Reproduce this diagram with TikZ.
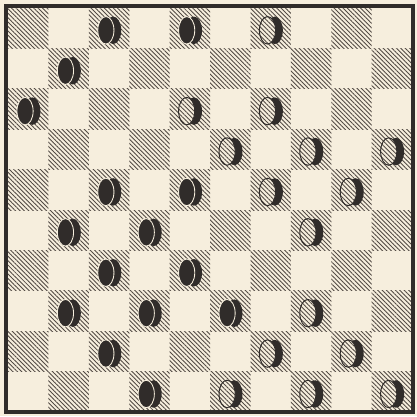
\documentclass[tikz,border=0pt]{standalone}
\usetikzlibrary{patterns.meta}
\definecolor{paper}{RGB}{246,238,221}
\definecolor{ink}{RGB}{48,44,42}
\definecolor{hatch}{RGB}{82,74,68}
\tikzset{
  darksq/.style={pattern={Lines[angle=-45, distance=2.2pt, line width=0.62pt]}, pattern color=hatch},
  frame/.style={draw=ink, line width=2.8pt},
  rim/.style={fill=ink},
  blackface/.style={fill=ink, draw=paper, line width=0.6pt},
  whiteface/.style={preaction={fill=paper}, darksq, draw=ink, line width=0.7pt}
}
\begin{document}
\begin{tikzpicture}
  \useasboundingbox[fill=paper] (-0.2,0.2) rectangle (10.12,-10.1);
  % dark squares
  \foreach \row in {0,...,9}
    \foreach \col in {0,...,9} {
      \pgfmathparse{int(mod(\row+\col,2))}
      \ifnum\pgfmathresult=0
        \path[darksq] (\col,-\row) rectangle ++(1,-1);
      \fi
    }
  \draw[frame] (-0.05,0.04) rectangle (10.01,-10.0);
  % black men
  \foreach \col/\row in {2/0,4/0,1/1,0/2,2/4,4/4,1/5,3/5,2/6,4/6,1/7,3/7,5/7,2/8,3/9} {
    \fill[rim] (\col+0.6,-\row-0.55) ellipse [x radius=0.2, y radius=0.34];
    \path[blackface] (\col+0.42,-\row-0.55) ellipse [x radius=0.2, y radius=0.34];
  }
  % white men
  \foreach \col/\row in {6/0,4/2,6/2,5/3,7/3,9/3,6/4,8/4,7/5,7/7,6/8,8/8,5/9,7/9,9/9} {
    \fill[rim] (\col+0.6,-\row-0.55) ellipse [x radius=0.2, y radius=0.34];
    \path[whiteface] (\col+0.42,-\row-0.55) ellipse [x radius=0.2, y radius=0.34];
  }
\end{tikzpicture}
\end{document}
